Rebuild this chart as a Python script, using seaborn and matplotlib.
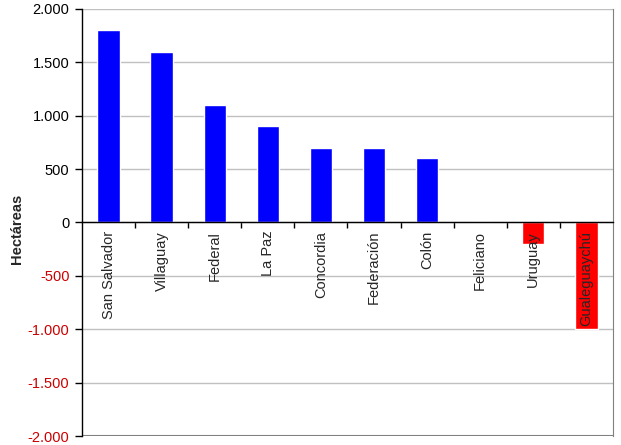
import matplotlib
matplotlib.use("Agg")
import matplotlib.pyplot as plt
import matplotlib.transforms as mtransforms
import seaborn as sns
import pandas as pd
from matplotlib.ticker import FixedLocator

categories = ["San Salvador", "Villaguay", "Federal", "La Paz", "Concordia",
              "Federación", "Colón", "Feliciano", "Uruguay", "Gualeguaychú"]
values = [1800, 1600, 1100, 900, 700, 700, 600, 0, -200, -1000]
y_ticks = [-2000, -1500, -1000, -500, 0, 500, 1000, 1500, 2000]
y_tick_labels = ["-2.000", "-1.500", "-1.000", "-500", "0", "500", "1.000", "1.500", "2.000"]
y_label = "Hectáreas"

sns.set_style("white")
plt.rcParams['font.family'] = ['Liberation Sans', 'DejaVu Sans']

df = pd.DataFrame({"cat": categories, "val": values})
df["sign"] = ["neg" if v < 0 else "pos" for v in values]

fig = plt.figure(figsize=(6.21, 4.45), dpi=100)
ax = fig.add_axes([0.132, 0.0202, 0.855, 0.9596])

sns.barplot(data=df, x="cat", y="val", hue="sign",
            palette={"pos": "#0000FF", "neg": "#FF0000"},
            width=0.42, dodge=False, legend=False, ax=ax, saturation=1,
            zorder=3)

ax.set_ylim(-2000, 2000)
ax.set_xlim(-0.5, len(categories) - 0.5)
ax.set_yticks(y_ticks)
ax.set_yticklabels(y_tick_labels, fontsize=10.5)
for lbl, v in zip(ax.get_yticklabels(), y_ticks):
    lbl.set_color("#CC0000" if v < 0 else "black")

ax.yaxis.grid(True, color="#C0C0C0", linewidth=1, zorder=0)
ax.set_axisbelow(True)

ax.spines['bottom'].set_position(('data', 0))
ax.spines['bottom'].set_color("black")
ax.spines['bottom'].set_linewidth(1)
ax.spines['bottom'].set_zorder(4)
ax.spines['left'].set_color("black")
ax.spines['left'].set_linewidth(1)
ax.spines['right'].set_color("#808080")
ax.spines['top'].set_visible(False)
ax.axhline(-2000, color="#808080", linewidth=1.5, zorder=1)

ax.tick_params(axis='y', direction='out', length=5, width=1, color="black", left=True, pad=4)
ax.set_xticks(range(len(categories)))
ax.set_xticklabels([])
ax.tick_params(axis='x', which='major', length=0)
ax.xaxis.set_minor_locator(FixedLocator([i + 0.5 for i in range(len(categories) - 1)]))
ax.tick_params(axis='x', which='minor', direction='out', length=4, width=1, color="black", bottom=True)

offset = mtransforms.ScaledTranslation(0, -6 / 72, fig.dpi_scale_trans)
for i, name in enumerate(categories):
    ax.text(i, 0, name, rotation=90, fontsize=10.5, va='top', ha='center',
            transform=ax.transData + offset, zorder=10)

ax.set_xlabel("")
ax.set_ylabel(y_label, fontsize=10.5, fontweight='bold')
ax.yaxis.set_label_coords(-0.11, 0.485)

fig.savefig("out.png", dpi=100)
